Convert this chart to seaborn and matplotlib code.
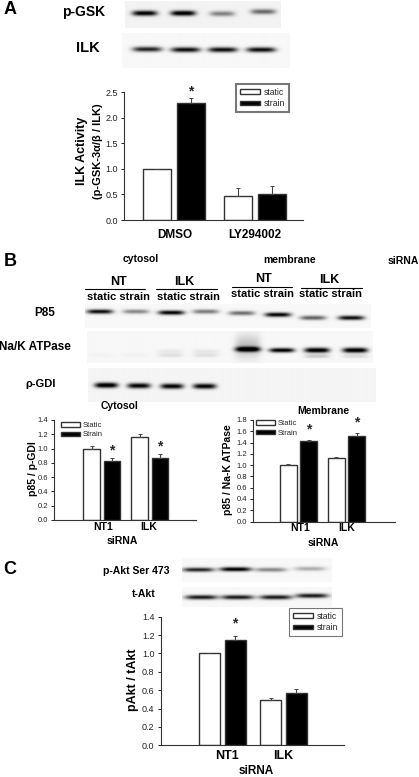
import numpy as np
import pandas as pd
import matplotlib
matplotlib.use("Agg")
import matplotlib.pyplot as plt
import seaborn as sns

W, H = 419, 777

# panel A
a_groups = ["DMSO", "LY294002"]
a_static = [1.0, 0.46]
a_strain = [2.28, 0.50]
a_static_err = [0.0, 0.17]
a_strain_err = [0.10, 0.16]

# panel B
b_groups = ["NT1", "ILK"]
cyt_static = [1.0, 1.16]
cyt_strain = [0.82, 0.87]
cyt_static_err = [0.03, 0.05]
cyt_strain_err = [0.05, 0.06]
mem_static = [1.0, 1.13]
mem_strain = [1.42, 1.52]
mem_static_err = [0.02, 0.02]
mem_strain_err = [0.03, 0.05]

# panel C
c_groups = ["NT1", "ILK"]
c_static = [1.0, 0.49]
c_strain = [1.15, 0.57]
c_static_err = [0.0, 0.03]
c_strain_err = [0.04, 0.04]

# blot band darkness per lane
gsk_bands = [1.0, 1.05, 0.45, 0.55]
ilk_bands = [0.85, 0.95, 0.95, 0.95]
p85_bands = [0.95, 0.45, 1.0, 0.5, 0.55, 1.0, 0.6, 0.95]
nak_bands = [0.02, 0.03, 0.1, 0.1, 1.1, 1.05, 1.1, 1.1, 0.06, 0.07, 0.2, 0.12, 0.22]
gdi_bands = [1.1, 1.0, 1.0, 1.0]
pakt_bands = [0.85, 1.05, 0.45, 0.3]
takt_bands = [0.9, 0.9, 0.9, 0.9]

sns.set_theme(style="ticks")
plt.rcParams["font.family"] = ["Liberation Sans", "DejaVu Sans"]

fig = plt.figure(figsize=(W / 100, H / 100), dpi=100)


def px_axes(left, top, right, bottom):
    return fig.add_axes([left / W, 1 - bottom / H, (right - left) / W, (bottom - top) / H])


def label(x, y, s, size=8, weight="bold", rot=0, color="black"):
    fig.text(x / W, 1 - y / H, s, fontsize=size, fontweight=weight, rotation=rot,
             ha="center", va="center", color=color)


def blot(left, top, right, bottom, centers, ys, dark, half=13, thick=2.5, bg=0.96):
    # soft grey strip with blurred bands, one per lane
    xx, yy = np.meshgrid(np.arange(left, right, 0.5), np.arange(top, bottom, 0.5))
    img = np.full(xx.shape, bg)
    thicks = np.broadcast_to(thick, (len(centers),))
    for c, y, d, t in zip(centers, ys, dark, thicks):
        band = np.exp(-((xx - c) / half) ** 4) * np.exp(-((yy - y) / t) ** 2)
        img -= d * band
    ax = px_axes(left, top, right, bottom)
    ax.imshow(np.clip(img, 0, 1), cmap="gray", vmin=0, vmax=1, aspect="auto",
              interpolation="bilinear")
    ax.axis("off")


def bars(rect, c0, step, ylim, yticks, groups, static, strain, static_err, strain_err,
         stars, star_pad, names=("static", "strain"), tick_size=6.5):
    left, top, right, bottom = rect
    ax = px_axes(left, top, right, bottom)
    df = pd.DataFrame({
        "group": groups * 2,
        "kind": [names[0]] * len(groups) + [names[1]] * len(groups),
        "value": static + strain,
    })
    sns.barplot(data=df, x="group", y="value", hue="kind", order=groups,
                palette=["white", "black"], width=0.84, gap=0.18, errorbar=None,
                edgecolor="#333333", linewidth=1.0, ax=ax)
    for cont, vals, errs in zip(ax.containers, (static, strain), (static_err, strain_err)):
        xs = [p.get_x() + p.get_width() / 2 for p in cont.patches]
        ax.errorbar(xs, vals, yerr=[[0] * len(errs), errs], fmt="none", ecolor="#444444",
                    elinewidth=0.8, capsize=1.3, capthick=0.7, zorder=1)
    strain_xs = [p.get_x() + p.get_width() / 2 for p in ax.containers[1].patches]
    for x, v, e, s in zip(strain_xs, strain, strain_err, stars):
        if s:
            ax.text(x, v + e + star_pad, "*", ha="center", va="center", fontsize=10,
                    fontweight="bold")
    ax.set_xlim((left - c0) / step, (right - c0) / step)
    ax.set_ylim(*ylim)
    ax.set_yticks(yticks)
    ax.set_yticklabels([f"{t:.1f}" for t in yticks], fontsize=tick_size)
    ax.set_xticks([])
    ax.set_xlabel("")
    ax.set_ylabel("")
    ax.tick_params(axis="y", length=2.5, width=0.7, pad=2, colors="#222222")
    ax.patch.set_alpha(0)
    for side in ["top", "right"]:
        ax.spines[side].set_visible(False)
    for side in ["left", "bottom"]:
        ax.spines[side].set_linewidth(0.8)
        ax.spines[side].set_color("#333333")
    return ax


def legend(ax, x, y, size, frame, lw=1.0, hlen=2.0):
    ax.legend(loc="upper left", bbox_to_anchor=(x / W, 1 - y / H), bbox_transform=fig.transFigure,
              fontsize=size, frameon=frame, fancybox=False, edgecolor="#777777",
              framealpha=1, handlelength=hlen, handleheight=0.45, handletextpad=0.4,
              labelspacing=0.3, borderpad=0.42, borderaxespad=0).get_frame().set_linewidth(lw)


# panel A
label(10, 10, "A", 13)
label(84, 12, "p-GSK", 10)
label(88, 48, "ILK", 10.5)
blot(125, 1, 281, 28, [144.5, 183, 222, 263], [13.5, 13.5, 14, 12], gsk_bands, half=12.5, bg=0.95)
blot(122, 33, 289, 68, [147, 185, 222, 260], [49, 49.5, 49.5, 49.5], ilk_bands, half=14.5, bg=0.97)
ax_a = bars((124, 92, 303, 220), 173.7, 81, (0, 2.5), [0, 0.5, 1.0, 1.5, 2.0, 2.5],
            a_groups, a_static, a_strain, a_static_err, a_strain_err, [True, False], 0.13)
legend(ax_a, 236, 84, 6.2, True, lw=1.5, hlen=2.4)
label(175, 235, "DMSO", 8.5)
label(255, 235, "LY294002", 8.5)
label(82, 151, "ILK Activity", 9, rot=90)
label(98, 151, "(p-GSK-3α/β / ILK)", 8, rot=90)

# panel B blots and headings
label(10, 261, "B", 13)
label(141, 259, "cytosol", 7.5)
label(290, 260, "membrane", 7.5)
label(403, 261, "siRNA", 7.5)
for xc, y, name in [(118, 282, "NT"), (184, 282, "ILK"), (263, 279, "NT"), (329, 280, "ILK")]:
    label(xc, y, name, 9)
for x0, x1, y in [(85, 145, 289), (156, 217, 289), (232, 292, 287), (301, 362, 288)]:
    fig.add_artist(plt.Line2D([x0 / W, x1 / W], [1 - y / H] * 2, color="black", lw=0.8))
for xc, y in [(118, 297), (188, 297), (262, 294), (330, 294)]:
    label(xc, y, "static strain", 8)
label(45, 313, "P85", 8.5)
label(35, 347, "Na/K ATPase", 8.5)
label(41, 384, "ρ-GDI", 8)
blot(85, 304, 370, 328, [99.6, 135.5, 170.8, 205, 241, 277, 312, 350],
     [312, 312, 313, 312, 313.5, 315, 318, 318], p85_bands, half=13, thick=2.1, bg=0.97)
blot(87, 331, 372, 363, [100, 135, 170, 205, 247, 281, 316, 354, 170, 205, 316, 354, 247],
     [355, 355, 355, 355, 349, 350, 350, 350, 351, 351, 356, 356, 346],
     nak_bands, half=12.5, thick=[2, 2, 2, 2, 2.5, 2.2, 2.5, 2.5, 2, 2, 1.8, 1.8, 11], bg=0.97)
blot(88, 368, 375, 402, [106, 138.5, 171.5, 204], [385, 385.5, 386, 386], gdi_bands, half=11.5,
     thick=2.6, bg=0.96)
label(120, 406, "Cytosol", 7.5)
label(323, 411, "Membrane", 7.5)

# panel B charts
ax_cyt = bars((54, 420, 196, 520), 101.8, 48, (0, 1.4), [0, 0.2, 0.4, 0.6, 0.8, 1.0, 1.2, 1.4],
              b_groups, cyt_static, cyt_strain, cyt_static_err, cyt_strain_err, [True, True], 0.10,
              names=("Static", "Strain"), tick_size=5.5)
legend(ax_cyt, 58, 419, 5.5, False, hlen=2.4)
label(103, 527, "NT1", 7.5)
label(149, 527, "ILK", 7.5)
label(122, 541, "siRNA", 7.5)
label(33, 469, "p85 / p-GDI", 7.5, rot=90)

ax_mem = bars((253, 420, 395, 521.5), 298.5, 48, (0, 1.8), [0, 0.2, 0.4, 0.6, 0.8, 1.0, 1.2, 1.4, 1.6, 1.8],
              b_groups, mem_static, mem_strain, mem_static_err, mem_strain_err, [True, True], 0.18,
              names=("Static", "Strain"), tick_size=5.5)
legend(ax_mem, 253, 417, 5.5, False, hlen=2.4)
label(300, 528, "NT1", 7.5)
label(347, 528, "ILK", 7.5)
label(323, 543, "siRNA", 7.5)
label(228, 470, "p85 / Na-K ATPase", 7.5, rot=90)

# panel C
label(10, 569, "C", 13)
label(136, 571, "p-Akt Ser 473", 7.5)
label(144, 594, "t-Akt", 7.5)
blot(182, 558, 331, 582, [198, 235, 270, 309], [569.5, 569, 569.5, 568.5], pakt_bands, half=15.5,
     thick=2.1, bg=0.97)
blot(182, 587, 331, 607, [201, 237, 275, 311], [597, 597, 597, 595.5], takt_bands, half=16,
     thick=2.2, bg=0.97)
ax_c = bars((160.7, 616.7, 344, 745.3), 222.3, 61.3, (0, 1.4), [0, 0.2, 0.4, 0.6, 0.8, 1.0, 1.2, 1.4],
            c_groups, c_static, c_strain, c_static_err, c_strain_err, [True, False], 0.14)
legend(ax_c, 289, 608, 6.2, True, lw=0.8, hlen=2.4)
label(227, 756, "NT1", 9)
label(283, 756, "ILK", 9)
label(256, 771, "siRNA", 8.5)
label(133, 680, "pAkt / tAkt", 9, rot=90)

fig.savefig("out.png", dpi=100)
